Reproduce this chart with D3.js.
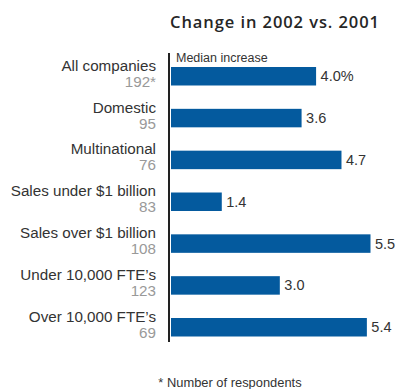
<!DOCTYPE html>
<html>
<head>
<meta charset="utf-8">
<script src="https://cdn.jsdelivr.net/npm/d3@7"></script>
<style>
  html, body { margin: 0; padding: 0; background: #fff; }
  svg { display: block; font-family: "Liberation Sans", Arial, sans-serif; }
</style>
</head>
<body>
<svg id="chart" width="399" height="389"></svg>
<script>
// Median increase, 2002 vs. 2001, by company group
const categories = [
  "All companies", "Domestic", "Multinational", "Sales under $1 billion",
  "Sales over $1 billion", "Under 10,000 FTE\u2019s", "Over 10,000 FTE\u2019s"
];
const respondents = ["192*", "95", "76", "83", "108", "123", "69"];
const increases = [4.0, 3.6, 4.7, 1.4, 5.5, 3.0, 5.4];
const valueLabels = ["4.0%", "3.6", "4.7", "1.4", "5.5", "3.0", "5.4"];

const svg = d3.select("#chart");

const x = d3.scaleLinear().domain([0, 5.5]).range([171, 370.5]);
const y = d3.scaleBand().domain(categories).range([67, 336.5])
  .paddingInner(0.558).paddingOuter(0);

// Title
svg.append("text")
  .attr("x", 170).attr("y", 27.5)
  .attr("font-family", "'Open Sans', sans-serif")
  .attr("font-size", 16.5).attr("font-weight", 600)
  .attr("fill", "#262626")
  .attr("textLength", 209).attr("lengthAdjust", "spacing")
  .text("Change in 2002 vs. 2001");

// Bars
svg.append("g").selectAll("rect")
  .data(categories)
  .join("rect")
  .attr("x", x(0))
  .attr("y", d => y(d))
  .attr("width", (d, i) => x(increases[i]) - x(0))
  .attr("height", y.bandwidth())
  .attr("fill", "#045a9e");

// Baseline axis
svg.append("line")
  .attr("x1", 169).attr("x2", 169)
  .attr("y1", 53).attr("y2", 342)
  .attr("stroke", "#222").attr("stroke-width", 2);

svg.append("text")
  .attr("x", 176).attr("y", 62)
  .attr("font-size", 12.5).attr("fill", "#333")
  .text("Median increase");

// Value labels
svg.append("g").selectAll("text")
  .data(categories)
  .join("text")
  .attr("x", (d, i) => x(increases[i]) + 4.5)
  .attr("y", d => y(d) + y.bandwidth() / 2 + 5)
  .attr("font-size", 14.5).attr("fill", "#333")
  .text((d, i) => valueLabels[i]);

// Category labels with respondent counts
const labels = svg.append("g").attr("text-anchor", "end");
labels.selectAll("text.cat")
  .data(categories)
  .join("text")
  .attr("class", "cat")
  .attr("x", 156)
  .attr("y", d => y(d) + y.bandwidth() / 2 - 5.5)
  .attr("font-size", 15.2).attr("fill", "#333")
  .text(d => d);
labels.selectAll("text.count")
  .data(categories)
  .join("text")
  .attr("class", "count")
  .attr("x", 156)
  .attr("y", d => y(d) + y.bandwidth() / 2 + 10.5)
  .attr("font-size", 15.2).attr("fill", "#999")
  .text((d, i) => respondents[i]);

// Footnote
svg.append("text")
  .attr("x", 230).attr("y", 387)
  .attr("text-anchor", "middle")
  .attr("font-size", 12.9).attr("fill", "#333")
  .text("* Number of respondents");
</script>
</body>
</html>
